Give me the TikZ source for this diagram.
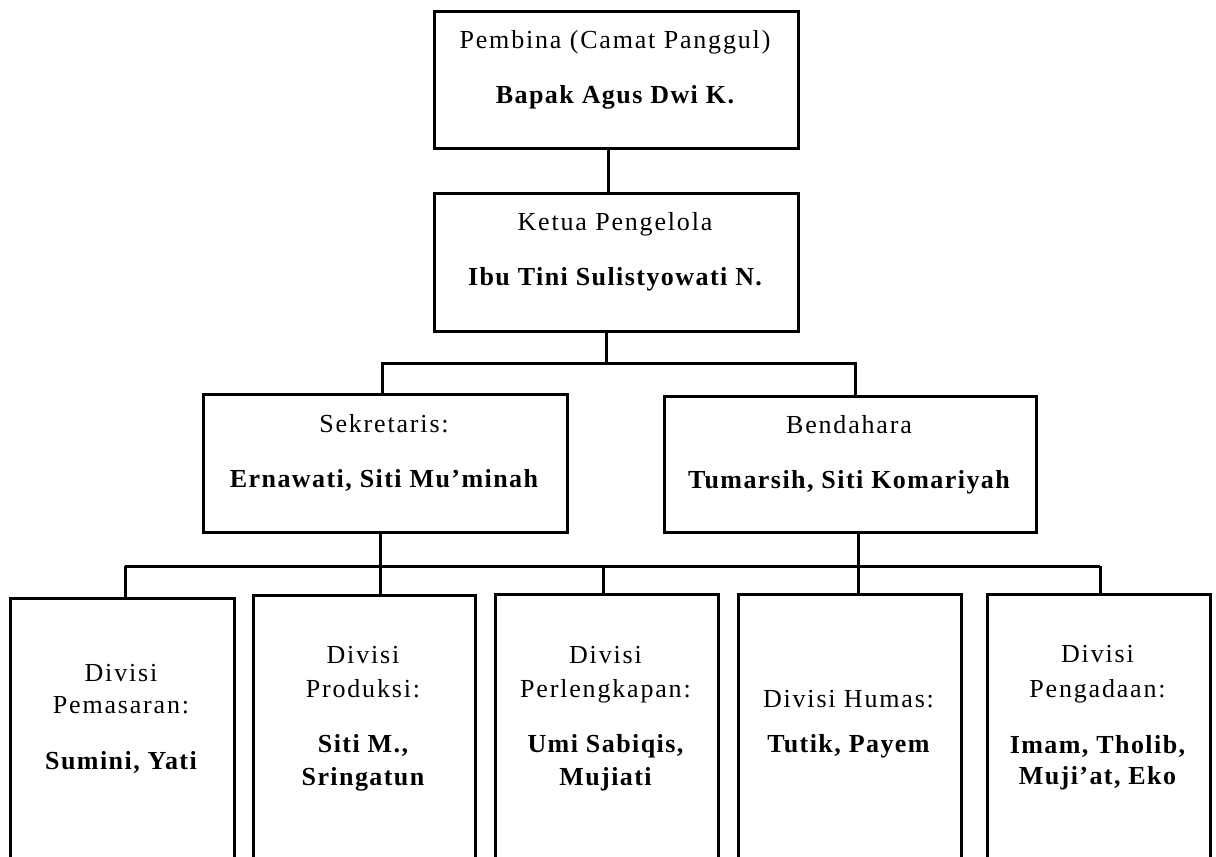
\documentclass[tikz,border=0pt]{standalone}
\usepackage{fontspec}
\setmainfont{Liberation Serif}[LetterSpace=7,BoldFeatures={LetterSpace=5.5}]
\begin{document}
\begin{tikzpicture}[x=1pt,y=-1pt,
  box/.style={draw=black,line width=3pt,anchor=north west,inner sep=0pt,fill=white},
  conn/.style={draw=black,line width=3pt},
  txt/.style={anchor=base,inner sep=0pt,font=\fontsize{26}{30}\selectfont},
  btxt/.style={txt,font=\fontsize{26}{30}\selectfont\bfseries}]
\useasboundingbox (0,0) rectangle (1216,857);
\clip (0,0) rectangle (1216,857);
% x positions of connectors
\coordinate (xa) at (608,0);
\coordinate (xb) at (606,0);
\coordinate (xs) at (382,0);
\coordinate (xt) at (855,0);
\coordinate (xd) at (380,0);
\coordinate (xe) at (858,0);
\coordinate (x1) at (125,0);
\coordinate (x3) at (603,0);
\coordinate (x5) at (1100,0);
\coordinate (busA) at (606,363);
\coordinate (busB) at (380,566);
% boxes
\node[box,minimum width=364pt,minimum height=137pt] (pembina) at (433,10) {};
\node[box,minimum width=364pt,minimum height=138pt] (ketua) at (433,192) {};
\node[box,minimum width=364pt,minimum height=138pt] (sek) at (202,393) {};
\node[box,minimum width=372pt,minimum height=136pt] (bend) at (663,395) {};
\node[box,minimum width=224pt,minimum height=320pt] (d1) at (9,597) {};
\node[box,minimum width=222pt,minimum height=320pt] (d2) at (252,594) {};
\node[box,minimum width=223pt,minimum height=320pt] (d3) at (494,593) {};
\node[box,minimum width=223pt,minimum height=320pt] (d4) at (737,593) {};
\node[box,minimum width=223pt,minimum height=320pt] (d5) at (986,593) {};
% connectors
\draw[conn] (pembina.south -| xa) -- (ketua.north -| xa);
\draw[conn] (ketua.south -| xb) -- (busA);
\draw[conn] (sek.north -| xs) -- (busA -| xs) -- (busA -| xt) -- (bend.north -| xt);
\draw[conn] (sek.south -| xd) -- (d2.north -| xd);
\draw[conn] (bend.south -| xe) -- (d4.north -| xe);
\draw[conn] (busB -| x1) -- (busB -| x5);
\draw[conn] (busB -| x1) -- (d1.north -| x1);
\draw[conn] (busB -| x3) -- (d3.north -| x3);
\draw[conn] (busB -| x5) -- (d5.north -| x5);
% texts
\node[txt] (t1) at (615,48) {Pembina (Camat Panggul)};
\node[btxt] (t2) at (615,103) {Bapak Agus Dwi K.};
\node[txt] (t3) at (615,230) {Ketua Pengelola};
\node[btxt] (t4) at (615,285) {Ibu Tini Sulistyowati N.};
\node[txt] (t5) at (384,432) {Sekretaris:};
\node[btxt] (t6) at (384,487) {Ernawati, Siti Mu’minah};
\node[txt] (t7) at (849,433) {Bendahara};
\node[btxt] (t8) at (849,488) {Tumarsih, Siti Komariyah};
\node[txt] (a1) at (121,681) {Divisi};
\node[txt] (a2) at (121,713) {Pemasaran:};
\node[btxt] (a3) at (121,769) {Sumini, Yati};
\node[txt] (b1) at (363,663) {Divisi};
\node[txt] (b2) at (363,697) {Produksi:};
\node[btxt] (b3) at (363,752) {Siti M.,};
\node[btxt] (b4) at (363,785) {Sringatun};
\node[txt] (c1) at (605.5,663) {Divisi};
\node[txt] (c2) at (605.5,697) {Perlengkapan:};
\node[btxt] (c3) at (605.5,752) {Umi Sabiqis,};
\node[btxt] (c4) at (605.5,785) {Mujiati};
\node[txt] (e1) at (848.5,707) {Divisi Humas:};
\node[btxt] (e2) at (848.5,752) {Tutik, Payem};
\node[txt] (f1) at (1097.5,662) {Divisi};
\node[txt] (f2) at (1097.5,697) {Pengadaan:};
\node[btxt] (f3) at (1097.5,753) {Imam, Tholib,};
\node[btxt] (f4) at (1097.5,784) {Muji’at, Eko};
\end{tikzpicture}
\end{document}
